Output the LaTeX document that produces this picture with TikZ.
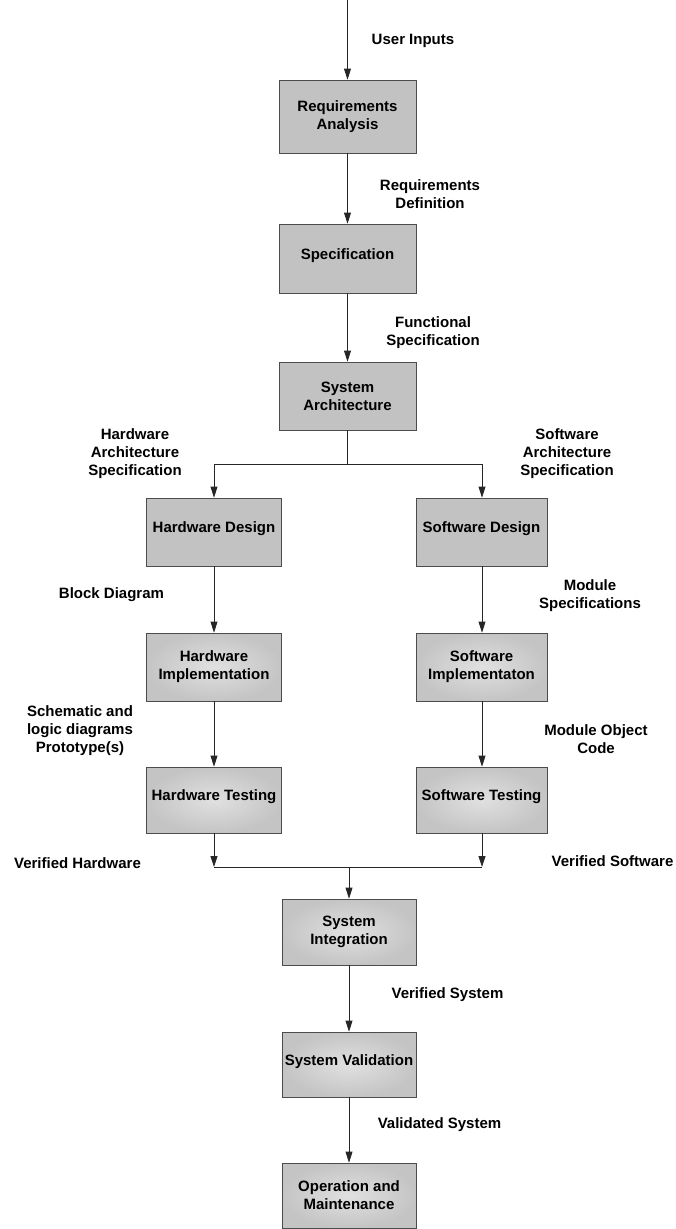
\documentclass[tikz,border=0pt]{standalone}
\usepackage{fontspec}
\setmainfont{Liberation Sans}
\usetikzlibrary{arrows.meta}
\begin{document}
\begin{tikzpicture}[x=1pt,y=-1pt,
  font=\bfseries\fontsize{15}{18}\selectfont,
  stage/.style={draw=black!70, line width=0.8pt, fill=black!24,
    minimum width=137pt, minimum height=68pt, inner sep=0pt, align=center},
  softstage/.style={stage, shading=radial, inner color=black!12, outer color=black!23},
  oneline/.style={text height=11pt, text depth=10pt},
  twoline/.style={execute at begin node={\rule{0pt}{22pt}}},
  lbl/.style={align=center, inner sep=0pt},
  flow/.style={draw=black!85, line width=0.8pt, -{Triangle[length=11pt,width=7pt]}},
  wire/.style={draw=black!85, line width=0.8pt}
]
\useasboundingbox (0,0) rectangle (675,1229);

% main column, upper part
\node[stage, twoline, minimum height=73pt] (req) at (347.5,116.5) {Requirements\\Analysis};
\node[stage, oneline, minimum height=69pt] (spec) at (347.5,258.5) {Specification};
\node[stage, twoline] (arch) at (347.5,396) {System\\Architecture};

% hardware and software branches
\node[stage, oneline, minimum width=135pt] (hwd) at (214,532) {Hardware Design};
\node[stage, oneline, minimum width=131pt] (swd) at (481.5,532) {Software Design};
\node[softstage, twoline, minimum width=135pt] (hwi) at (214,667) {Hardware\\Implementation};
\node[softstage, twoline, minimum width=131pt] (swi) at (481.5,667) {Software\\Implementaton};
\node[softstage, oneline, minimum width=135pt, minimum height=66pt] (hwt) at (214,800) {Hardware Testing};
\node[softstage, oneline, minimum width=131pt, minimum height=66pt] (swt) at (481.5,800) {Software Testing};

% main column, lower part
\node[softstage, twoline, minimum width=134pt, minimum height=66pt] (si) at (349,932) {System\\Integration};
\node[softstage, oneline, minimum width=134pt, minimum height=65pt] (sv) at (349,1064.5) {System Validation};
\node[softstage, twoline, minimum width=134pt, minimum height=65pt] (om) at (349,1195.5) {Operation and\\Maintenance};

% connector helper points
\coordinate (in) at (347.5,0);
\coordinate (split) at (347.5,464);
\coordinate (splitL) at (214,464);
\coordinate (splitR) at (482,464);
\coordinate (joinL) at (214,867);
\coordinate (joinR) at (482,867);
\coordinate (joinM) at (349,867);

% connectors
\draw[flow] (in) -- (req);
\draw[flow] (req) -- (spec);
\draw[flow] (spec) -- (arch);
\draw[wire] (arch) -- (split);
\draw[wire] (splitL) -- (splitR);
\draw[flow] (splitL) -- (hwd);
\draw[flow] (splitR) -- (swd.north -| splitR);
\draw[flow] (hwd) -- (hwi);
\draw[flow] (swd.south -| splitR) -- (swi.north -| splitR);
\draw[flow] (hwi) -- (hwt);
\draw[flow] (swi.south -| splitR) -- (swt.north -| splitR);
\draw[flow] (hwt) -- (joinL);
\draw[flow] (swt.south -| joinR) -- (joinR);
\draw[wire] (joinL) -- (joinR);
\draw[flow] (joinM) -- (si);
\draw[flow] (si) -- (sv);
\draw[flow] (sv) -- (om);

% flow labels
\node[lbl] (l-user) at (413,40.5) {User Inputs};
\node[lbl] (l-reqdef) at (430,194) {Requirements\\Definition};
\node[lbl] (l-func) at (433,333) {Functional\\Specification};
\node[lbl] (l-hwarch) at (135,453.5) {Hardware\\Architecture\\Specification};
\node[lbl] (l-swarch) at (567,453.5) {Software\\Architecture\\Specification};
\node[lbl] (l-block) at (111.5,595) {Block Diagram};
\node[lbl] (l-modspec) at (590,595.5) {Module\\Specifications};
\node[lbl] (l-schem) at (80,731) {Schematic and\\logic diagrams\\Prototype(s)};
\node[lbl] (l-modobj) at (596,739) {Module Object\\Code};
\node[lbl] (l-verhw) at (77.5,863.5) {Verified Hardware};
\node[lbl] (l-versw) at (612.5,861.5) {Verified Software};
\node[lbl] (l-versys) at (447.5,994.5) {Verified System};
\node[lbl] (l-valsys) at (439.5,1124.5) {Validated System};
\end{tikzpicture}
\end{document}
